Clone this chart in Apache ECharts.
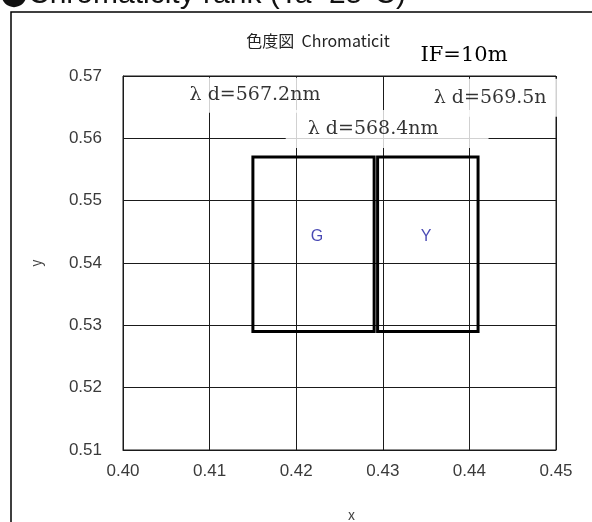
<!DOCTYPE html>
<html>
<head>
<meta charset="utf-8">
<script src="https://cdn.jsdelivr.net/npm/echarts@6/dist/echarts.min.js"></script>
<style>
  html, body { margin: 0; padding: 0; background: #fff; }
  #chart { width: 592px; height: 522px; }
</style>
</head>
<body>
<div id="chart"></div>
<script>
// rank boxes (corner points, closed)
const gBoxX = [0.4150, 0.4150, 0.4290, 0.4290, 0.4150]
const gBoxY = [0.5290, 0.5570, 0.5570, 0.5290, 0.5290]
const yBoxX = [0.4294, 0.4294, 0.4410, 0.4410, 0.4294]
const yBoxY = [0.5290, 0.5570, 0.5570, 0.5290, 0.5290]

// rank names and where they sit
const rankNames = ['G', 'Y']
const rankLabelX = [0.4224, 0.4350]
const rankLabelY = [0.5442, 0.5442]

// dominant wavelength notes
const noteText = ['λ d=567.2nm', 'λ d=568.4nm', 'λ d=569.5n']
const noteX = [0.4164, 0.4305, 0.4424]
const noteY = [0.5669, 0.5615, 0.5665]
const notePad = [[10, 47, 5, 27], [8, 50, 10, 22], [8, 25, 10, 25]]

// axes
const xTicks = [0.40, 0.41, 0.42, 0.43, 0.44, 0.45]
const yTicks = [0.51, 0.52, 0.53, 0.54, 0.55, 0.56, 0.57]

const zip = (xs, ys) => xs.map((x, i) => [x, ys[i]])

const chart = echarts.init(document.getElementById('chart'))

const tickFont = { fontFamily: 'Liberation Sans', fontSize: 17, color: '#3a3a3a' }
const gridLine = { lineStyle: { color: '#1a1a1a', width: 1 } }
const boxLine = { color: '#000', width: 3, join: 'miter', cap: 'square' }

chart.setOption({
  animation: false,
  backgroundColor: '#fff',
  grid: {
    left: 123, right: 36, top: 76, bottom: 72,
    outerBoundsMode: 'none',
    containLabel: false,
    show: true, borderColor: '#1a1a1a', borderWidth: 1, backgroundColor: '#fff'
  },
  xAxis: {
    type: 'value',
    min: xTicks[0], max: xTicks[xTicks.length - 1], interval: 0.01,
    axisLine: { show: true, lineStyle: { color: '#1a1a1a' } },
    axisTick: { show: false },
    splitLine: gridLine,
    axisLabel: { ...tickFont, margin: 13, formatter: v => v.toFixed(2) },
    name: 'x',
    nameLocation: 'middle',
    nameGap: 58,
    nameTextStyle: { fontFamily: 'Noto Sans CJK JP', fontSize: 14, color: '#444', padding: [0, 0, 0, 24] }
  },
  yAxis: {
    type: 'value',
    min: yTicks[0], max: yTicks[yTicks.length - 1], interval: 0.01,
    axisLine: { show: true, lineStyle: { color: '#1a1a1a' } },
    axisTick: { show: false },
    splitLine: gridLine,
    axisLabel: { ...tickFont, margin: 21, formatter: v => v.toFixed(2) },
    name: 'y',
    nameLocation: 'middle',
    nameRotate: 90,
    nameGap: 80,
    nameTextStyle: { fontFamily: 'Noto Sans CJK JP', fontSize: 14, color: '#444' }
  },
  graphic: [
    {
      type: 'rect', z: -10, silent: true,
      shape: { x: 11, y: 12, width: 700, height: 700 },
      style: { fill: '#fff', stroke: '#000', lineWidth: 1.5 }
    },
    {
      type: 'text', left: 0, top: -20,
      style: {
        text: '{dot|●}Chromaticity rank (Ta=25°C)',
        font: '30px "Liberation Sans"', fill: '#111',
        rich: { dot: { fontFamily: 'Noto Sans CJK JP', fontSize: 28, fill: '#111' } }
      }
    },
    {
      type: 'text', x: 318, y: 41,
      style: {
        text: '色度図  Chromaticit', align: 'center', verticalAlign: 'middle',
        font: '16px "Noto Sans CJK JP"', fill: '#222'
      }
    },
    {
      type: 'text', x: 464, y: 56,
      style: {
        text: 'IF=10m', align: 'center', verticalAlign: 'middle',
        font: '21px "DejaVu Serif"', fill: '#000'
      }
    }
  ],
  series: [
    {
      name: 'G', type: 'line', data: zip(gBoxX, gBoxY),
      showSymbol: false, symbol: 'none', z: 3, lineStyle: boxLine
    },
    {
      name: 'Y', type: 'line', data: zip(yBoxX, yBoxY),
      showSymbol: false, symbol: 'none', z: 3, lineStyle: boxLine
    },
    {
      name: 'rank', type: 'scatter', symbolSize: 0, z: 4,
      data: rankNames.map((n, i) => ({ name: n, value: [rankLabelX[i], rankLabelY[i]] })),
      label: {
        show: true, position: 'inside', formatter: '{b}',
        fontFamily: 'Liberation Sans', fontSize: 16, color: '#1a1aa0'
      }
    },
    {
      name: 'notes', type: 'scatter', symbolSize: 0, z: 5,
      data: noteText.map((t, i) => ({
        name: t, value: [noteX[i], noteY[i]],
        label: { padding: notePad[i] }
      })),
      label: {
        show: true, position: 'inside', formatter: '{b}',
        fontFamily: 'DejaVu Serif', fontSize: 19, lineHeight: 20, color: '#000',
        backgroundColor: '#fff'
      }
    }
  ]
})
</script>
</body>
</html>
